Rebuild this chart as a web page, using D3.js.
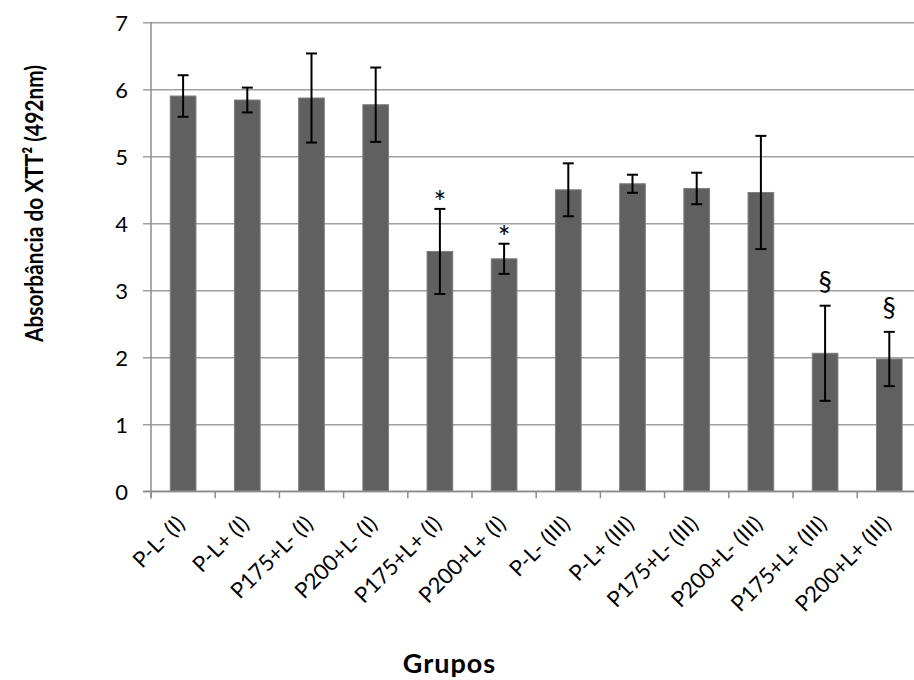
<!DOCTYPE html>
<html>
<head>
<meta charset="utf-8">
<script src="https://cdn.jsdelivr.net/npm/d3@7"></script>
<style>
  html, body { margin: 0; padding: 0; background: #fff; }
  svg { display: block; font-family: Lato, "Open Sans", sans-serif; }
</style>
</head>
<body>
<svg id="chart" width="914" height="680"></svg>
<script>
// Groups and XTT absorbance means with their error half-widths
const categories = ["P-L- (I)", "P-L+ (I)", "P175+L- (I)", "P200+L- (I)", "P175+L+ (I)", "P200+L+ (I)",
                    "P-L- (III)", "P-L+ (III)", "P175+L- (III)", "P200+L- (III)", "P175+L+ (III)", "P200+L+ (III)"];
const means  = [5.90, 5.84, 5.87, 5.77, 3.58, 3.47, 4.50, 4.59, 4.52, 4.46, 2.06, 1.975];
const errors = [0.31, 0.185, 0.665, 0.555, 0.635, 0.225, 0.395, 0.135, 0.235, 0.845, 0.71, 0.405];
const marks  = ["", "", "", "", "*", "*", "", "", "", "", "§", "§"];
const yTicks = [0, 1, 2, 3, 4, 5, 6, 7];

const svg = d3.select("#chart");
const plotLeft = 151, plotRight = 921.4, plotTop = 22.3, plotBottom = 491.3;

const x = d3.scaleBand().domain(categories).range([plotLeft, plotRight])
  .paddingInner(0.6).paddingOuter(0.3);
const y = d3.scaleLinear().domain([0, 7]).range([plotBottom, plotTop]);

// Horizontal gridlines and y axis
const yAxis = d3.axisLeft(y).tickValues(yTicks).tickFormat(d3.format("d")).tickSize(0);
const gy = svg.append("g").attr("transform", `translate(${plotLeft - 8},0)`).call(yAxis);
gy.select(".domain").remove();
gy.selectAll(".tick line").attr("stroke", "#a0a0a0").attr("stroke-width", 1.5)
  .attr("x1", 0).attr("x2", plotRight - plotLeft + 8);
gy.selectAll(".tick text")
  .attr("font-size", 22).attr("font-family", "Lato, sans-serif")
  .attr("fill", "#000").attr("x", -15).attr("dy", "0.36em");

// Vertical axis line
svg.append("line").attr("x1", plotLeft).attr("x2", plotLeft).attr("y1", plotTop).attr("y2", plotBottom + 7)
  .attr("stroke", "#8c8c8c").attr("stroke-width", 1.5);

// Bars
svg.append("g").selectAll("rect").data(categories).join("rect")
  .attr("x", d => x(d))
  .attr("y", (d, i) => y(means[i]))
  .attr("width", x.bandwidth())
  .attr("height", (d, i) => y(0) - y(means[i]))
  .attr("fill", "#606060")
  .attr("stroke", "#7e7e7e")
  .attr("stroke-width", 1);

// Category axis with ticks at band boundaries
const step = x.step();
const boundaries = d3.range(categories.length + 1).map(i => plotLeft + i * step);
svg.append("line").attr("x1", plotLeft - 8).attr("x2", plotRight).attr("y1", plotBottom).attr("y2", plotBottom)
  .attr("stroke", "#8c8c8c").attr("stroke-width", 1.5);
svg.append("g").selectAll("line").data(boundaries).join("line")
  .attr("x1", d => d).attr("x2", d => d).attr("y1", plotBottom).attr("y2", plotBottom + 7)
  .attr("stroke", "#8c8c8c").attr("stroke-width", 1.5);

// Error bars
const eb = svg.append("g").attr("stroke", "#000").attr("stroke-width", 2);
categories.forEach((c, i) => {
  const cx = x(c) + x.bandwidth() / 2;
  const hi = y(means[i] + errors[i]), lo = y(means[i] - errors[i]);
  eb.append("line").attr("x1", cx).attr("x2", cx).attr("y1", hi).attr("y2", lo);
  eb.append("line").attr("x1", cx - 5.5).attr("x2", cx + 5.5).attr("y1", hi).attr("y2", hi);
  eb.append("line").attr("x1", cx - 5.5).attr("x2", cx + 5.5).attr("y1", lo).attr("y2", lo);
});

// Significance marks above the error bars (asterisk glyph sits high, section sign low)
const markStyle = { "*": { size: 30, dy: 4 }, "§": { size: 27, dy: -15 } };
svg.append("g").selectAll("text").data(categories.filter((d, i) => marks[i])).join("text")
  .each(function (d) {
    const i = categories.indexOf(d);
    const s = markStyle[marks[i]];
    d3.select(this)
      .attr("x", x(d) + x.bandwidth() / 2)
      .attr("y", y(means[i] + errors[i]) + s.dy)
      .attr("font-size", s.size)
      .text(marks[i]);
  })
  .attr("text-anchor", "middle");

// Rotated category labels
svg.append("g").selectAll("text").data(categories).join("text")
  .attr("transform", d => `translate(${x(d) + x.bandwidth() / 2 + 3},${plotBottom + 34}) rotate(-45)`)
  .attr("text-anchor", "end")
  .attr("font-size", 22)
  .text(d => d);

// Axis titles
svg.append("text")
  .attr("transform", `translate(43,203.5) rotate(-90)`)
  .attr("text-anchor", "middle")
  .attr("font-size", 25).attr("font-weight", "bold")
  .attr("textLength", 277).attr("lengthAdjust", "spacingAndGlyphs")
  .text("Absorbância do XTT² (492nm)");

svg.append("text")
  .attr("x", 449.5).attr("y", 673)
  .attr("text-anchor", "middle")
  .attr("font-size", 27).attr("font-weight", "bold")
  .attr("letter-spacing", 1)
  .text("Grupos");
</script>
</body>
</html>
